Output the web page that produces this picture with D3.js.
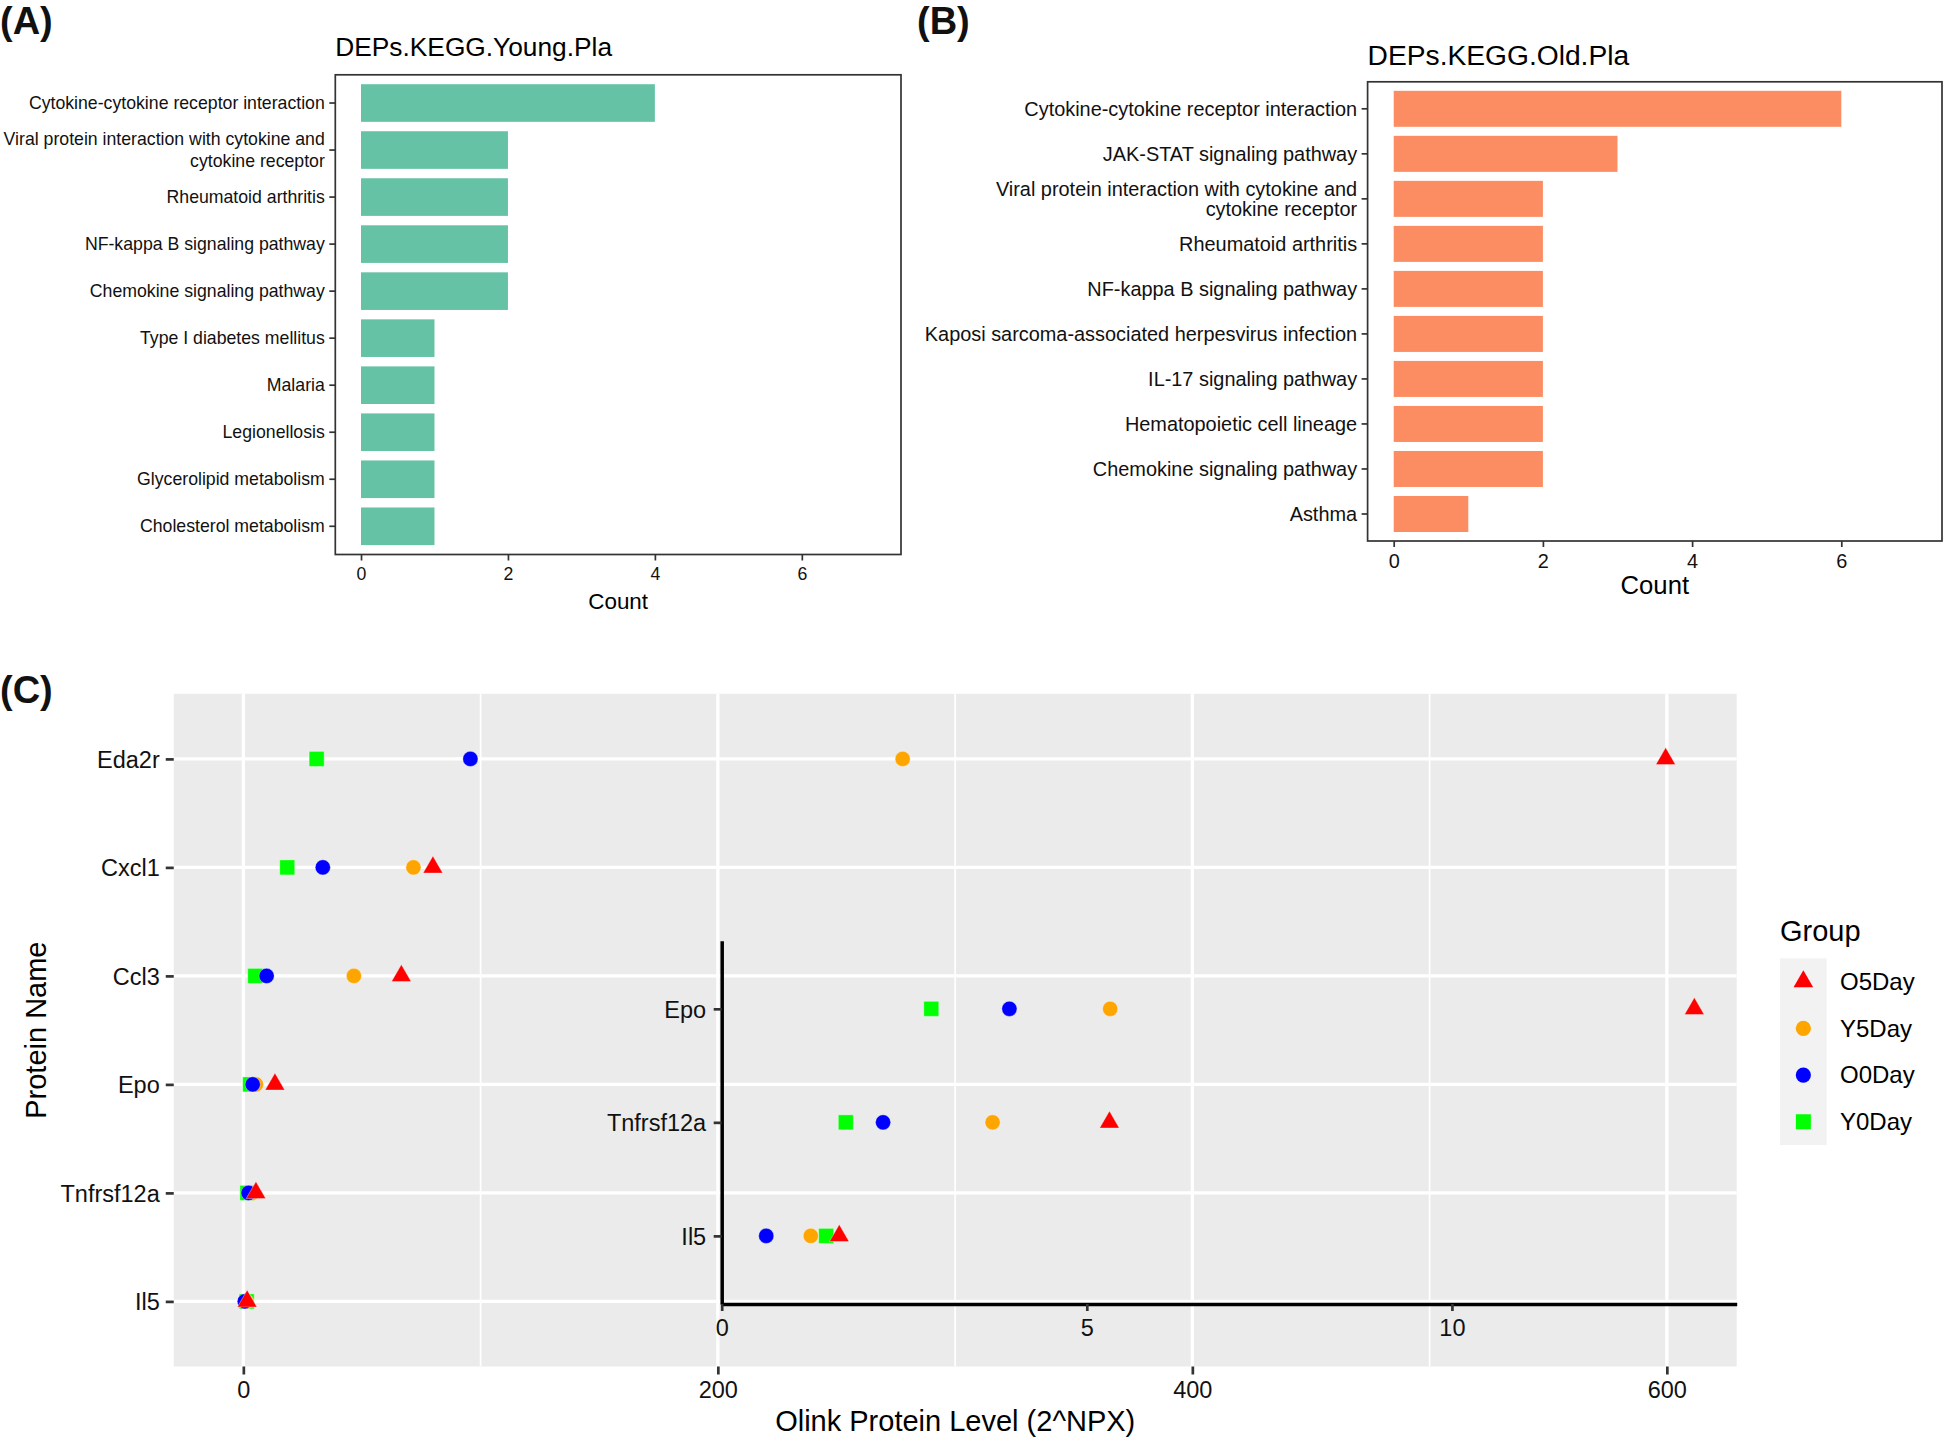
<!DOCTYPE html>
<html><head><meta charset="utf-8">
<script src="https://cdn.jsdelivr.net/npm/d3@7"></script>
<style>
body{margin:0;background:#fff}
svg{display:block}
text{font-family:"Liberation Sans",Arial,sans-serif}
</style>
</head><body>
<svg id="c" width="1946" height="1440"></svg>
<script>
// ---------------- DATA ----------------
const youngPathways = [
  "Cytokine-cytokine receptor interaction",
  "Viral protein interaction with cytokine and\ncytokine receptor",
  "Rheumatoid arthritis",
  "NF-kappa B signaling pathway",
  "Chemokine signaling pathway",
  "Type I diabetes mellitus",
  "Malaria",
  "Legionellosis",
  "Glycerolipid metabolism",
  "Cholesterol metabolism"
];
const youngCounts = [4, 2, 2, 2, 2, 1, 1, 1, 1, 1];

const oldPathways = [
  "Cytokine-cytokine receptor interaction",
  "JAK-STAT signaling pathway",
  "Viral protein interaction with cytokine and\ncytokine receptor",
  "Rheumatoid arthritis",
  "NF-kappa B signaling pathway",
  "Kaposi sarcoma-associated herpesvirus infection",
  "IL-17 signaling pathway",
  "Hematopoietic cell lineage",
  "Chemokine signaling pathway",
  "Asthma"
];
const oldCounts = [6, 3, 2, 2, 2, 2, 2, 2, 2, 1];
const countLimits = [0, 7];
const countTicks = [0, 2, 4, 6];

const proteins = ["Eda2r", "Cxcl1", "Ccl3", "Epo", "Tnfrsf12a", "Il5"];
const insetProteins = ["Epo", "Tnfrsf12a", "Il5"];
// values (2^NPX) per group, in the order of `proteins`
const Y0Day = [30.9, 18.5, 5.0, 2.87, 1.70, 1.43];
const Y5Day = [277.9, 71.7, 46.6, 5.32, 3.71, 1.22];
const O0Day = [95.7, 33.5, 9.8, 3.94, 2.21, 0.61];
const O5Day = [599.5, 79.9, 66.6, 13.32, 5.31, 1.61];

const groupNames = ["Y0Day", "Y5Day", "O0Day", "O5Day"];          // drawing order
const groupValues = [Y0Day, Y5Day, O0Day, O5Day];
const groupColors = ["#00FF00", "#FFA500", "#0000FF", "#FF0000"];
const groupShapes = ["square", "circle", "circle", "triangle"];
const legendOrder = ["O5Day", "Y5Day", "O0Day", "Y0Day"];

const mainTicks = [0, 200, 400, 600];
const mainMinorTicks = [100, 300, 500];
const insetTicks = [0, 5, 10];
const insetLimits = [0, 13.9];

// ---------------- DRAW ----------------
const svg = d3.select("#c");
const FONT = '"Liberation Sans", Arial, sans-serif';

function panelLabel(txt, x, y) {
  svg.append("text").attr("x", x).attr("y", y).attr("font-size", 38)
    .attr("font-weight", "bold").attr("fill", "#111").text(txt);
}

function barPanel(o) {
  const x = d3.scaleLinear()
    .domain([countLimits[0] - 0.05 * (countLimits[1] - countLimits[0]),
             countLimits[1] + 0.05 * (countLimits[1] - countLimits[0])])
    .range([o.left, o.right]);
  const y = d3.scaleBand().domain(o.cats).range([o.top, o.bottom])
    .paddingInner(0.2).paddingOuter(0.2);
  const g = svg.append("g");

  g.selectAll("rect.bar").data(o.cats).join("rect").attr("class", "bar")
    .attr("x", x(0)).attr("y", d => y(d))
    .attr("width", (d, i) => x(o.vals[i]) - x(0))
    .attr("height", y.bandwidth())
    .attr("fill", o.color);

  g.append("rect").attr("x", o.left).attr("y", o.top)
    .attr("width", o.right - o.left).attr("height", o.bottom - o.top)
    .attr("fill", "none").attr("stroke", "#333").attr("stroke-width", 1.7);

  const ya = g.append("g").attr("transform", `translate(${o.left},0)`)
    .call(d3.axisLeft(y).tickSize(6).tickPadding(4.5));
  ya.select(".domain").remove();
  ya.selectAll(".tick line").attr("stroke", "#333").attr("stroke-width", 1.7);
  ya.selectAll(".tick text").attr("font-size", o.fs).attr("font-family", FONT)
    .attr("fill", "#111").attr("dy", null)
    .each(function (d) {
      const t = d3.select(this);
      const lines = d.split("\n");
      const xx = t.attr("x");
      t.text(null);
      lines.forEach((l, k) => {
        t.append("tspan").attr("x", xx)
          .attr("y", (k - (lines.length - 1) / 2) * o.lineH)
          .attr("dy", "0.35em").text(l);
      });
    });

  const xa = g.append("g").attr("transform", `translate(0,${o.bottom})`)
    .call(d3.axisBottom(x).tickValues(countTicks).tickSize(6).tickPadding(4));
  xa.select(".domain").remove();
  xa.selectAll(".tick line").attr("stroke", "#333").attr("stroke-width", 1.7);
  xa.selectAll(".tick text").attr("font-size", o.fs).attr("font-family", FONT)
    .attr("fill", "#111").attr("y", o.tickLabelOff).attr("dy", "0.35em");

  g.append("text").attr("x", o.left).attr("y", o.titleBase)
    .attr("font-size", o.titleFs).attr("fill", "#000").text(o.title);
  g.append("text").attr("x", (o.left + o.right) / 2).attr("y", o.countY)
    .attr("dy", "0.35em").attr("text-anchor", "middle")
    .attr("font-size", o.countFs).attr("fill", "#000").text("Count");
}

panelLabel("(A)", 0, 34);
panelLabel("(B)", 917, 34);
panelLabel("(C)", 0, 703);

barPanel({
  cats: youngPathways, vals: youngCounts, color: "#66C2A5",
  left: 335.3, right: 901, top: 74.8, bottom: 554.5,
  fs: 17.7, lineH: 21.7, tickLabelOff: 19.5,
  title: "DEPs.KEGG.Young.Pla", titleFs: 26.3, titleBase: 56,
  countFs: 22.4, countY: 601
});
barPanel({
  cats: oldPathways, vals: oldCounts, color: "#FC8D62",
  left: 1367.6, right: 1942, top: 81.8, bottom: 541,
  fs: 19.9, lineH: 19.8, tickLabelOff: 19.7,
  title: "DEPs.KEGG.Old.Pla", titleFs: 28.2, titleBase: 65.3,
  countFs: 25.7, countY: 585
});

// ---------- Panel C ----------
const C = {left: 173.75, right: 1736.7, top: 693.8, bottom: 1366.5};
const allVals = groupValues.flat();
const ext = d3.extent(allVals);
const padV = 0.05 * (ext[1] - ext[0]);
const cx = d3.scaleLinear().domain([ext[0] - padV, ext[1] + padV]).range([C.left, C.right]);
const cy = d3.scalePoint().domain(proteins).range([C.top, C.bottom]).padding(0.6);

const gc = svg.append("g");
gc.append("rect").attr("x", C.left).attr("y", C.top)
  .attr("width", C.right - C.left).attr("height", C.bottom - C.top).attr("fill", "#EBEBEB");
gc.selectAll("line.minor").data(mainMinorTicks).join("line").attr("class", "minor")
  .attr("x1", d => cx(d)).attr("x2", d => cx(d)).attr("y1", C.top).attr("y2", C.bottom)
  .attr("stroke", "#fff").attr("stroke-width", 1.7);
gc.selectAll("line.majx").data(mainTicks).join("line").attr("class", "majx")
  .attr("x1", d => cx(d)).attr("x2", d => cx(d)).attr("y1", C.top).attr("y2", C.bottom)
  .attr("stroke", "#fff").attr("stroke-width", 3.3);
gc.selectAll("line.majy").data(proteins).join("line").attr("class", "majy")
  .attr("x1", C.left).attr("x2", C.right).attr("y1", d => cy(d)).attr("y2", d => cy(d))
  .attr("stroke", "#fff").attr("stroke-width", 3.3);

const cya = gc.append("g").attr("transform", `translate(${C.left},0)`)
  .call(d3.axisLeft(cy).tickSize(8).tickPadding(6));
cya.select(".domain").remove();
cya.selectAll(".tick line").attr("stroke", "#333").attr("stroke-width", 2.7);
cya.selectAll(".tick text").attr("font-size", 23.5).attr("font-family", FONT)
  .attr("fill", "#111").attr("dy", "0.35em");

const cxa = gc.append("g").attr("transform", `translate(0,${C.bottom})`)
  .call(d3.axisBottom(cx).tickValues(mainTicks).tickSize(8).tickPadding(4));
cxa.select(".domain").remove();
cxa.selectAll(".tick line").attr("stroke", "#333").attr("stroke-width", 2.7);
cxa.selectAll(".tick text").attr("font-size", 23.5).attr("font-family", FONT)
  .attr("fill", "#111").attr("y", 23).attr("dy", "0.35em");

gc.append("text").attr("x", (C.left + C.right) / 2).attr("y", 1421).attr("dy", "0.35em")
  .attr("text-anchor", "middle").attr("font-size", 29).attr("fill", "#000")
  .text("Olink Protein Level (2^NPX)");
gc.append("text").attr("transform", `translate(35.6,${(C.top + C.bottom) / 2}) rotate(-90)`)
  .attr("dy", "0.35em").attr("text-anchor", "middle").attr("font-size", 29).attr("fill", "#000")
  .text("Protein Name");

const symType = {circle: d3.symbolCircle, square: d3.symbolSquare, triangle: d3.symbolTriangle};
const symSize = {circle: Math.PI * 7.6 * 7.6, square: 15 * 15, triangle: 0.433 * 19.6 * 19.6};
function symPath(shape) { return d3.symbol().type(symType[shape]).size(symSize[shape])(); }

function drawPoints(g, xs, ys, protList) {
  groupNames.forEach((gn, gi) => {
    const pts = proteins.map((p, pi) => ({p, v: groupValues[gi][pi]}))
      .filter(d => protList.includes(d.p));
    g.selectAll(null).data(pts).join("path")
      .attr("d", symPath(groupShapes[gi]))
      .attr("transform", d => `translate(${xs(d.v)},${ys(d.p)})`)
      .attr("fill", groupColors[gi])
      .attr("stroke", "#fff").attr("stroke-width", 0.6).attr("stroke-opacity", 0.6);
  });
}
drawPoints(gc.append("g"), cx, cy, proteins);

// ---------- Inset ----------
const I = {left: 721.7, right: C.right, top: 940.7, bottom: 1304};
const ix = d3.scaleLinear().domain(insetLimits).range([I.left, I.right]);
const iy = d3.scalePoint().domain(insetProteins).range([I.top, I.bottom]).padding(0.6);
const gi = svg.append("g");
const iya = gi.append("g").attr("transform", `translate(${I.left},0)`)
  .call(d3.axisLeft(iy).tickSize(8).tickSizeOuter(0).tickPadding(7.5));
iya.select(".domain").attr("stroke", "#000").attr("stroke-width", 3.5);
iya.selectAll(".tick line").attr("stroke", "#333").attr("stroke-width", 2.7);
iya.selectAll(".tick text").attr("font-size", 23.5).attr("font-family", FONT)
  .attr("fill", "#111").attr("dy", "0.35em");
const ixa = gi.append("g").attr("transform", `translate(0,${I.bottom})`)
  .call(d3.axisBottom(ix).tickValues(insetTicks).tickSize(7).tickSizeOuter(0).tickPadding(4));
ixa.select(".domain").attr("stroke", "#000").attr("stroke-width", 3.5);
ixa.selectAll(".tick line").attr("stroke", "#333").attr("stroke-width", 2.7);
ixa.selectAll(".tick text").attr("font-size", 23.5).attr("font-family", FONT)
  .attr("fill", "#111").attr("y", 23.3).attr("dy", "0.35em");
drawPoints(gi.append("g"), ix, iy, insetProteins);

// ---------- Legend ----------
const L = {x: 1780, top: 958.3, keyW: 46.7, keyH: 46.7};
const gl = svg.append("g");
gl.append("text").attr("x", L.x).attr("y", 941).attr("font-size", 29).attr("fill", "#000").text("Group");
gl.append("rect").attr("x", L.x).attr("y", L.top).attr("width", L.keyW)
  .attr("height", L.keyH * legendOrder.length).attr("fill", "#F2F2F2");
legendOrder.forEach((name, k) => {
  const gi2 = groupNames.indexOf(name);
  const cyk = L.top + L.keyH * (k + 0.5);
  gl.append("path").attr("d", symPath(groupShapes[gi2]))
    .attr("transform", `translate(${L.x + L.keyW / 2},${cyk})`)
    .attr("fill", groupColors[gi2]);
  gl.append("text").attr("x", 1840).attr("y", cyk).attr("dy", "0.35em")
    .attr("font-size", 24).attr("fill", "#000").text(name);
});
</script>
</body></html>
